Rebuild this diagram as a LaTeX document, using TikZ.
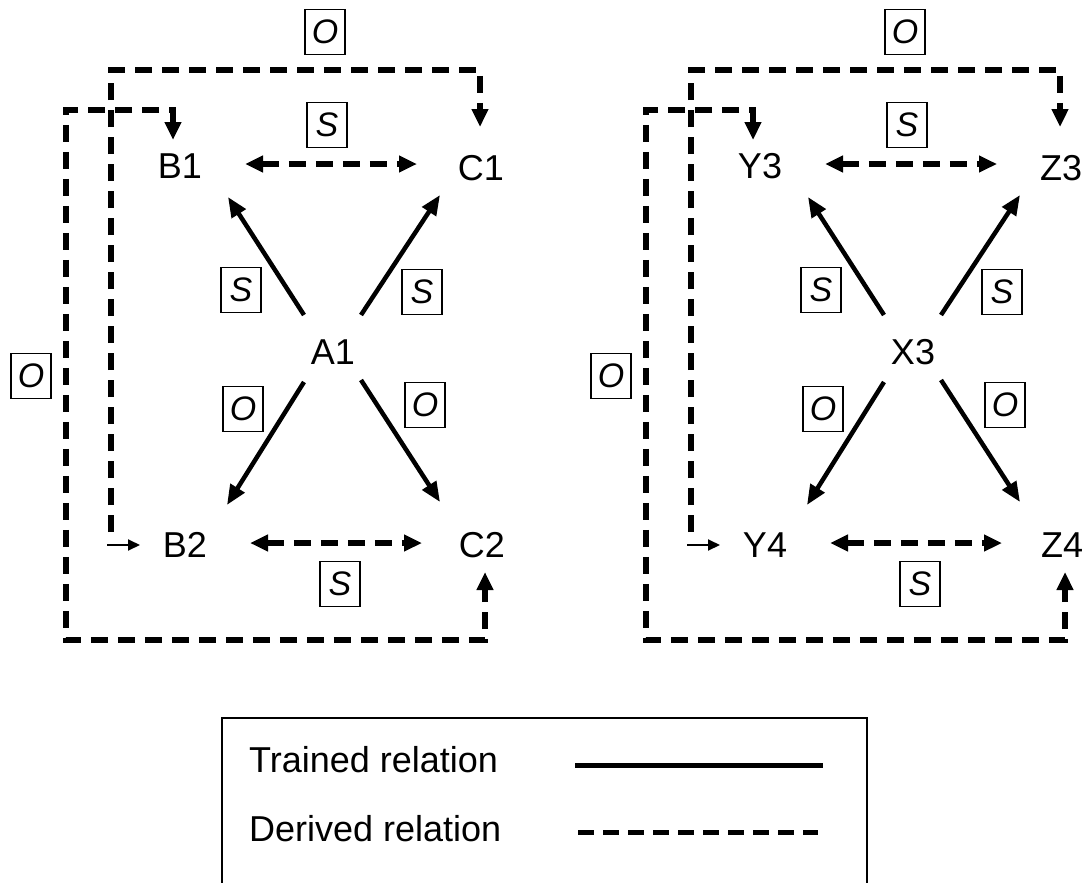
\documentclass[tikz,border=0pt]{standalone}
\usepackage{fontspec}
\setmainfont{Liberation Sans}
\usetikzlibrary{arrows.meta,calc}
\newcommand\drawpanel[6]{%
  \node[lbl] (#2) at (#1+333,352) {#2};
  \node[lbl] (#3) at (#1+180,166) {#3};
  \node[lbl] (#4) at (#1+481,168) {#4};
  \node[lbl] (#5) at (#1+185,545) {#5};
  \node[lbl] (#6) at (#1+482,545) {#6};
  % relation labels
  \node[rel] (#2oT) at (#1+325,32) {O};
  \node[rel] (#2sT) at (#1+327,125) {S};
  \node[rel] (#2sL) at (#1+241,290) {S};
  \node[rel] (#2sR) at (#1+422,292) {S};
  \node[rel] (#2oL) at (#1+31,376) {O};
  \node[rel] (#2oML) at (#1+243,409) {O};
  \node[rel] (#2oMR) at (#1+425,405) {O};
  \node[rel] (#2sB) at (#1+340,584) {S};
  % trained relations
  \draw[trained] ($(#2)+(-29,-37)$) -- ($(#3)+(48,31)$);
  \draw[trained] ($(#2)+(28,-37)$) -- ($(#4)+(-41,27)$);
  \draw[trained] ($(#2)+(-29,30)$) -- ($(#5)+(42,-40)$);
  \draw[trained] ($(#2)+(28,28)$) -- ($(#6)+(-42,-43)$);
  % derived same relations
  \draw[derivedboth] ($(#3)+(65,-2)$) -- ($(#4)+(-64,-4)$);
  \draw[derivedboth] ($(#5)+(65,-2)$) -- ($(#6)+(-60,-2)$);
  % derived opposite relation B2 <-> C1
  \coordinate (#5in) at ($(#5)+(-74,-13)$);
  \draw[derived] (#5in) |- ($(#4)+(-1,-98)$) -- ($(#4)+(-1,-41)$);
  \draw[smallarrow] ($(#5)+(-78,0)$) -- ($(#5)+(-45,0)$);
  % derived opposite relation B1 <-> C2
  \draw[derivedboth] ($(#3)+(-7,-26)$) -- ($(#3)+(-7,-56)$) -| ($(#5)+(-119,95)$) -| ($(#6)+(3,27)$);
}
\begin{document}
\begin{tikzpicture}[x=1pt,y=-1pt,
  lbl/.style={font=\fontsize{36}{40}\selectfont, inner sep=0pt},
  rel/.style={draw, line width=1.5pt, font=\fontsize{34}{38}\selectfont\itshape,
    minimum width=40pt, minimum height=45pt, inner sep=0pt},
  trained/.style={line width=4.5pt, -{Triangle[length=20pt,width=16pt]}},
  derived/.style={line width=6pt, dash pattern=on 17pt off 10pt,
    -{Triangle[length=18pt,width=16pt]}},
  derivedboth/.style={derived, {Triangle[length=18pt,width=16pt]}-{Triangle[length=18pt,width=16pt]}},
  smallarrow/.style={line width=2pt, -{Triangle[length=12pt,width=11pt]}},
]
\useasboundingbox (0,0) rectangle (1090,883);
\drawpanel{0}{A1}{B1}{C1}{B2}{C2}
\drawpanel{580}{X3}{Y3}{Z3}{Y4}{Z4}
% legend
\draw[line width=2pt] (222,890) -- (222,718) -- (867,718) -- (867,890);
\node[lbl, anchor=west] (tr) at (249,760) {Trained relation};
\node[lbl, anchor=west] (dr) at (249,829) {Derived relation};
\draw[line width=5pt] (575,765) -- (823,765);
\draw[line width=5pt, dash pattern=on 16pt off 9pt] (578,832) -- (818,832);
\end{tikzpicture}
\end{document}
